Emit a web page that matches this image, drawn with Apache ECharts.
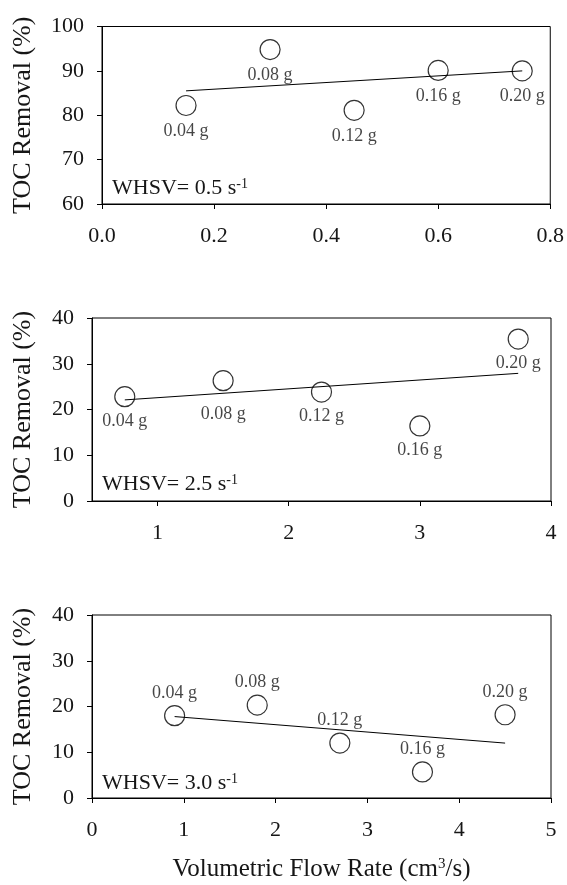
<!DOCTYPE html>
<html>
<head>
<meta charset="utf-8">
<script src="https://cdn.jsdelivr.net/npm/echarts@6/dist/echarts.min.js"></script>
<style>
html,body{margin:0;padding:0;background:#fff;}
#c{width:567px;height:885px;}
</style>
</head>
<body>
<div id="c"></div>
<script>
// ---- data ----
var pointNames = ['0.04 g', '0.08 g', '0.12 g', '0.16 g', '0.20 g'];

var flow1 = [0.15, 0.30, 0.45, 0.60, 0.75];
var toc1 = [82.2, 94.8, 81.1, 90.1, 90.0];
var trendX1 = [0.15, 0.75];
var trendY1 = [85.5, 90.0];

var flow2 = [0.75, 1.50, 2.25, 3.00, 3.75];
var toc2 = [22.8, 26.3, 23.8, 16.4, 35.4];
var trendX2 = [0.75, 3.75];
var trendY2 = [22.1, 27.9];

var flow3 = [0.9, 1.8, 2.7, 3.6, 4.5];
var toc3 = [18.0, 20.3, 12.0, 5.7, 18.2];
var trendX3 = [0.9, 4.5];
var trendY3 = [17.8, 12.0];

var yTicks1 = [60, 70, 80, 90, 100];
var yTicks23 = [0, 10, 20, 30, 40];
var xTicks1 = [0.0, 0.2, 0.4, 0.6, 0.8];
var xTicks2 = [1, 2, 3, 4];
var xTicks3 = [0, 1, 2, 3, 4, 5];

var whsvLabels = ['WHSV= 0.5 s', 'WHSV= 2.5 s', 'WHSV= 3.0 s'];
var yTitle = 'TOC Removal (%)';
var xTitle = 'Volumetric Flow Rate (cm{sup|3}/s)';

// ---- chart ----
var FONT = 'Liberation Serif';
var TXT = '#161616';
var chart = echarts.init(document.getElementById('c'), null, {renderer: 'canvas'});

var grids = [
  {left: 102, top: 26.5, width: 449, height: 177.5},
  {left: 92, top: 318, width: 459, height: 183},
  {left: 92, top: 615, width: 459, height: 183}
];

function yAxis(i, ticks, gap) {
  return {
    type: 'value', gridIndex: i,
    min: ticks[0], max: ticks[ticks.length - 1], interval: ticks[1] - ticks[0],
    name: yTitle, nameLocation: 'middle', nameGap: gap, nameRotate: 90,
    nameTextStyle: {fontFamily: FONT, fontSize: 26, color: TXT},
    axisLine: {show: true, lineStyle: {color: '#000', width: 1}},
    axisTick: {show: true, inside: false, length: 5, lineStyle: {color: '#000'}},
    axisLabel: {fontFamily: FONT, fontSize: 22, color: TXT, margin: 18},
    splitLine: {show: false}
  };
}

function xAxis(i, ticks, min, max, fmt, custom) {
  var ax = {
    type: 'value', gridIndex: i, min: min, max: max,
    axisLine: {show: true, onZero: false, lineStyle: {color: '#000', width: 1}},
    axisTick: {show: true, inside: false, length: 5, lineStyle: {color: '#000'}},
    axisLabel: {fontFamily: FONT, fontSize: 22, color: TXT, margin: 21,
      formatter: function (v) { return fmt(v); }},
    splitLine: {show: false}
  };
  if (custom) {
    ax.axisTick.customValues = ticks;
    ax.axisLabel.customValues = ticks;
  } else {
    ax.interval = ticks[1] - ticks[0];
  }
  return ax;
}

var xa3 = xAxis(2, xTicks3, 0, 5, function (v) { return String(v); }, false);
xa3.name = xTitle;
xa3.nameLocation = 'middle';
xa3.nameGap = 59;
xa3.nameTextStyle = {fontFamily: FONT, fontSize: 25, color: TXT,
  rich: {sup: {fontFamily: FONT, fontSize: 15, color: TXT, verticalAlign: 'top', padding: [0, 0, 10, 0]}}};

function pts(xs, ys) {
  return xs.map(function (x, k) { return {value: [x, ys[k]], name: pointNames[k]}; });
}
function line(xs, ys) {
  return xs.map(function (x, k) { return [x, ys[k]]; });
}

function scatter(i, xs, ys, pos, dist, special) {
  var data = pts(xs, ys);
  if (special) {
    special.forEach(function (s) {
      data[s.idx].label = s.label;
    });
  }
  return {
    type: 'scatter', xAxisIndex: i, yAxisIndex: i,
    symbol: 'circle', symbolSize: 20,
    itemStyle: {color: 'rgba(0,0,0,0)', borderColor: '#000', borderWidth: 1.2},
    label: {show: true, position: pos, distance: dist, formatter: '{b}',
      fontFamily: FONT, fontSize: 18, color: TXT},
    data: data, z: 3
  };
}
function trend(i, xs, ys) {
  return {
    type: 'line', xAxisIndex: i, yAxisIndex: i, symbol: 'none',
    lineStyle: {color: '#000', width: 1}, data: line(xs, ys), z: 2, silent: true
  };
}

var titleRich = {sup: {fontFamily: FONT, fontSize: 14, color: TXT, verticalAlign: 'top', padding: [0, 0, 8, 0]}};
function whsv(i, left, top) {
  return {
    text: whsvLabels[i] + '{sup|-1}', left: left, top: top, padding: 0,
    textStyle: {fontFamily: FONT, fontSize: 22, fontWeight: 'normal', color: TXT, rich: titleRich}
  };
}

var option = {
  animation: false,
  backgroundColor: '#fff',
  title: [whsv(0, 112, 177), whsv(1, 102, 473), whsv(2, 102, 772)],
  grid: grids.map(function (g) {
    return {left: g.left, top: g.top, width: g.width, height: g.height,
      show: true, borderColor: '#000', borderWidth: 1, backgroundColor: 'transparent'};
  }),
  xAxis: [
    xAxis(0, xTicks1, 0, 0.8, function (v) { return v.toFixed(1); }, false),
    xAxis(1, xTicks2, 0.5, 4, function (v) { return String(v); }, true),
    xa3
  ],
  yAxis: [yAxis(0, yTicks1, 66), yAxis(1, yTicks23, 56), yAxis(2, yTicks23, 56)],
  series: [
    trend(0, trendX1, trendY1),
    scatter(0, flow1, toc1, 'bottom', 6),
    trend(1, trendX2, trendY2),
    scatter(1, flow2, toc2, 'bottom', 5, [{idx: 1, label: {distance: 14}}]),
    trend(2, trendX3, trendY3),
    scatter(2, flow3, toc3, 'top', 3)
  ]
};
chart.setOption(option);
</script>
</body>
</html>
